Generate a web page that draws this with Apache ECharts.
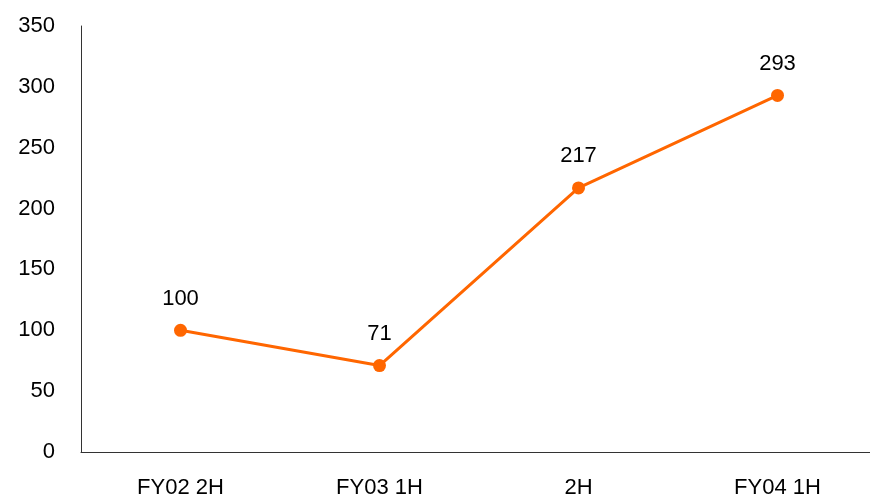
<!DOCTYPE html>
<html>
<head>
<meta charset="utf-8">
<script src="https://cdn.jsdelivr.net/npm/echarts@6/dist/echarts.min.js"></script>
<style>
  html, body { margin: 0; padding: 0; background: #fff; overflow: hidden; }
  #chart { width: 877px; height: 496px; }
</style>
</head>
<body>
<div id="chart"></div>
<script>
var categories = ['FY02 2H', 'FY03 1H', '2H', 'FY04 1H'];
var values = [100, 71, 217, 293];

var font = "'Liberation Sans', Arial, sans-serif";
var chart = echarts.init(document.getElementById('chart'));
chart.setOption({
  animation: false,
  textStyle: { fontFamily: font },
  grid: { left: 81, right: 0, top: 26, bottom: 44, containLabel: false, outerBoundsMode: 'none' },
  xAxis: {
    type: 'category',
    data: categories,
    boundaryGap: true,
    axisLine: { lineStyle: { color: '#333', width: 1 } },
    axisTick: { show: false },
    axisLabel: { color: '#000', fontSize: 22, fontFamily: font, margin: 25 }
  },
  yAxis: {
    type: 'value',
    min: 0,
    max: 350,
    interval: 50,
    axisLine: { show: true, lineStyle: { color: '#333', width: 1 } },
    axisTick: { show: false },
    splitLine: { show: false },
    axisLabel: { color: '#000', fontSize: 22, fontFamily: font, margin: 26 }
  },
  series: [{
    type: 'line',
    data: values,
    symbol: 'circle',
    symbolSize: 13,
    lineStyle: { color: '#FF6600', width: 3 },
    itemStyle: { color: '#FF6600' },
    label: { show: true, position: 'top', distance: 14, color: '#000', fontSize: 22, fontFamily: font }
  }]
});
</script>
</body>
</html>
